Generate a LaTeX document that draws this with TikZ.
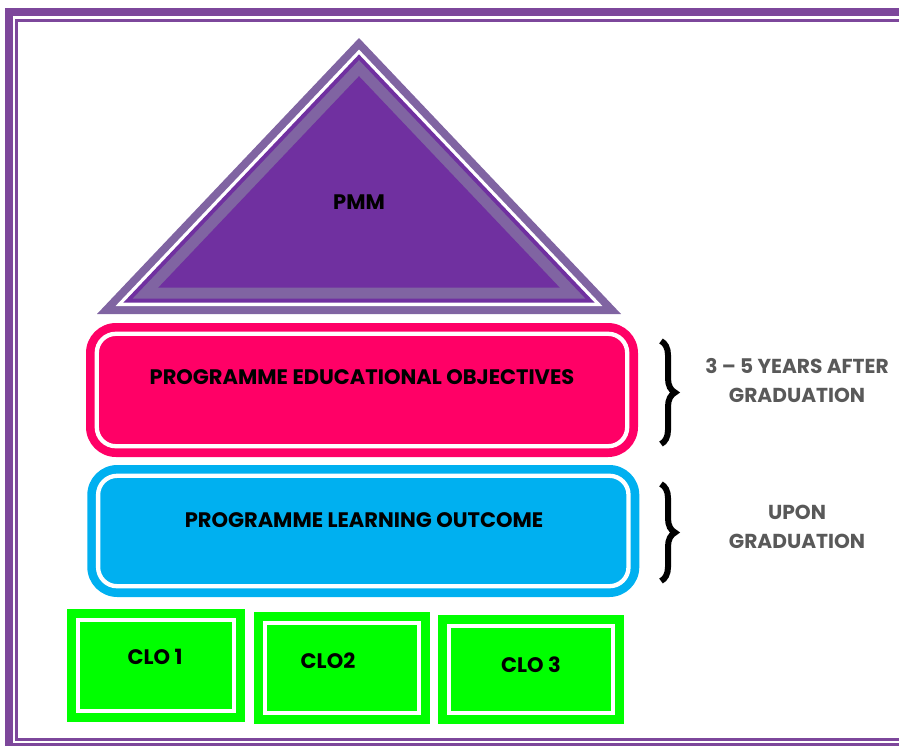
\documentclass[tikz,border=0pt]{standalone}
\usepackage{fontspec}
\setmainfont{Poppins}
\usetikzlibrary{decorations.pathreplacing}
\definecolor{framepurple}{RGB}{125,71,155}
\definecolor{pmmdark}{RGB}{112,48,160}
\definecolor{pmmlight}{RGB}{128,100,162}
\definecolor{peopink}{RGB}{255,0,102}
\definecolor{ploblue}{RGB}{0,176,240}
\definecolor{clogreen}{RGB}{0,255,0}
\definecolor{notegray}{RGB}{89,89,89}
\newcommand{\Tag}{\bfseries\fontsize{21}{29}\selectfont}
\newcommand{\Note}{\bfseries\fontsize{20.2}{29.3}\selectfont}

\begin{document}
\begin{tikzpicture}[x=1pt,y=-1pt,
  goal/.style={rounded corners=30pt,inner sep=0pt,minimum width=552pt},
  clo/.style={fill=clogreen,inner sep=0pt},
  rim/.style={draw=white,line width=4.3pt},
  tag/.style={font=\Tag},
  note/.style={font=\Note,text=notegray,align=center},
  curly/.style={decorate,decoration={brace,amplitude=14pt},line width=6pt}]
\useasboundingbox (0,0) rectangle (899,745);
\clip (0,0) rectangle (899,745);

% frame
\draw[framepurple,line width=8pt] (9,12) rectangle (930,747);
\draw[framepurple,line width=3pt] (16.7,20.5) rectangle (920,739.7);

% pyramid
\fill[pmmlight] (359,38) -- (621,314) -- (97,314) -- cycle;
\fill[white] (359,49.6) -- (602.4,306) -- (115.6,306) -- cycle;
\fill[pmmdark] (359,54.4) -- (594.7,302.7) -- (123.3,302.7) -- cycle;
\fill[pmmlight] (359,60.2) -- (585.4,298.7) -- (132.6,298.7) -- cycle;
\fill[pmmdark] (359,76.2) -- (559.8,287.7) -- (158.2,287.7) -- cycle;
\node[tag] (pmm) at (359,202.5) {PMM};

% objectives and outcome
\node[goal,fill=peopink,minimum height=134pt] (peo) at (362,390) {};
\node[goal,fill=ploblue,minimum height=132pt] (plo) at (363.3,531) {};
\draw[rim,rounded corners=19pt] ([shift={(11,11)}]peo.north west)
     rectangle ([shift={(-11,-11)}]peo.south east);
\draw[rim,rounded corners=19pt] ([shift={(11,11)}]plo.north west)
     rectangle ([shift={(-11,-11)}]plo.south east);
\node[tag] (peo-text) at (362,377.5) {PROGRAMME EDUCATIONAL OBJECTIVES};
\node[tag] (plo-text) at (364,520) {PROGRAMME LEARNING OUTCOME};

% course outcomes
\node[clo,minimum width=178pt,minimum height=113pt] (clo1-box) at (156,665.5) {};
\node[clo,minimum width=176pt,minimum height=112pt] (clo2-box) at (342,668) {};
\node[clo,minimum width=186pt,minimum height=109pt] (clo3-box) at (531,669.5) {};
\draw[rim] ([shift={(11,11)}]clo1-box.north west)
     rectangle ([shift={(-11,-11)}]clo1-box.south east);
\draw[rim] ([shift={(11,11)}]clo2-box.north west)
     rectangle ([shift={(-11,-11)}]clo2-box.south east);
\draw[rim] ([shift={(11,11)}]clo3-box.north west)
     rectangle ([shift={(-11,-11)}]clo3-box.south east);
\node[tag] (clo1) at (155,657) {CLO 1};
\node[tag] (clo2) at (328,661) {CLO2};
\node[tag] (clo3) at (531,665) {CLO 3};

% braces
\coordinate (peo-top) at (661,341);
\coordinate (peo-bot) at (661,444);
\coordinate (plo-top) at (661,484);
\coordinate (plo-bot) at (661,581);
\draw[curly] (peo-top) -- (peo-bot);
\draw[curly] (plo-top) -- (plo-bot);
\node[note] (peo-when) at (797,380.5) {3 – 5 YEARS AFTER\\GRADUATION};
\node[note] (plo-when) at (797,527.2) {UPON\\GRADUATION};
\end{tikzpicture}
\end{document}
